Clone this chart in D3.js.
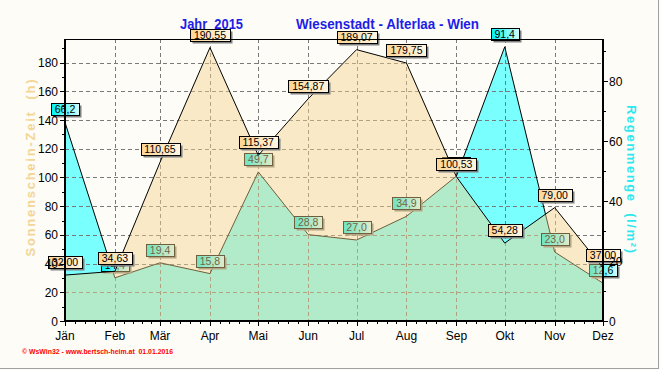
<!DOCTYPE html>
<html><head><meta charset="utf-8">
<script src="https://cdn.jsdelivr.net/npm/d3@7"></script>
<style>html,body{margin:0;padding:0;background:#FDFCF7;}svg{display:block;}</style>
</head><body>
<script>
const months = ["Jän","Feb","Mär","Apr","Mai","Jun","Jul","Aug","Sep","Okt","Nov","Dez"];
const sunshine = [32.00,34.63,110.65,190.55,115.37,154.87,189.07,179.75,100.53,54.28,79.00,37.00];
const rain = [66.2,14.4,19.4,15.8,49.7,28.8,27.0,34.9,48.3,91.4,23.0,12.6];
const leftTicks = [0,20,40,60,80,100,120,140,160,180];
const rightTicks = [0,20,40,60,80];
const titleLeft = "Jahr  2015";
const titleRight = "Wiesenstadt - Alterlaa - Wien";
const leftTitle = "Sonnenschein-Zeit  (h)";
const rightTitle = "Regenmenge  (l/m²)";
const footer = "© WsWin32 - www.bertsch-heim.at  01.01.2016";

const W = 661, H = 370;
const L = 65, R = 603, T = 39, B = 321;
const dates = months.map((m,i)=>new Date(Date.UTC(2015,i,1)));
const x = d3.scaleUtc().domain([dates[0], dates[11]]).range([L,R]);
const yL = d3.scaleLinear().domain([0,196.5]).range([B,T]);
const yR = d3.scaleLinear().domain([0,94]).range([B,T]);

const svg = d3.select("body").append("svg").attr("width",W).attr("height",H)
  .style("font-family","'Liberation Sans', Arial, sans-serif");
svg.append("rect").attr("width",W).attr("height",H).attr("fill","#FDFCF7");

const defs = svg.append("defs");
function grad(id,c1,c2){
  const g = defs.append("linearGradient").attr("id",id).attr("x1",0).attr("x2",1).attr("y1",0).attr("y2",0);
  g.append("stop").attr("offset","0%").attr("stop-color",c1);
  g.append("stop").attr("offset","100%").attr("stop-color",c2);
}
grad("gSun","#FFD595","#FFF6E4");
grad("gRain","#00F2F2","#D4FFFF");

// rain area
const rainArea = d3.area().x((d,i)=>x(dates[i])).y0(B).y1(d=>yR(d));
const rainLine = d3.line().x((d,i)=>x(dates[i])).y(d=>yR(d));
svg.append("path").datum(rain).attr("d",rainArea).attr("fill","#7AFFFF");

// grid
const grid = svg.append("g").attr("stroke","#7a7a7a").attr("stroke-dasharray","4,3").attr("stroke-width",1);
dates.forEach((d,i)=>{ if(i>0 && i<11) grid.append("line").attr("x1",Math.round(x(d))+0.5).attr("x2",Math.round(x(d))+0.5).attr("y1",T).attr("y2",B); });
leftTicks.forEach(v=>{ if(v>0) grid.append("line").attr("x1",L).attr("x2",R).attr("y1",Math.round(yL(v))+0.5).attr("y2",Math.round(yL(v))+0.5); });

svg.append("path").datum(rain).attr("d",rainLine).attr("fill","none").attr("stroke","#000").attr("stroke-width",1);

function labels(vals, fmt, yScale, gradId){
  const g = svg.append("g");
  vals.forEach((v,i)=>{
    const cx = x(dates[i]), cy = yScale(v) - 13;
    const lg = g.append("g");
    const sh = lg.append("rect");
    const bx = lg.append("rect");
    const t = lg.append("text").attr("x",cx).attr("y",cy+4).attr("text-anchor","middle")
      .attr("font-size","10.5px").attr("fill","#000").text(fmt(v));
    const w = Math.round(t.node().getComputedTextLength()) + 8;
    const x0 = Math.round(cx - w/2) + 0.5, y0 = Math.round(cy - 6) + 0.5;
    sh.attr("x",x0+2).attr("y",y0+2).attr("width",w).attr("height",12).attr("fill","#808080");
    bx.attr("x",x0).attr("y",y0).attr("width",w).attr("height",12).attr("fill",`url(#${gradId})`).attr("stroke","#000").attr("stroke-width",1);
  });
}
labels(rain, v=>v.toFixed(1).replace(".",","), yR, "gRain");

// sunshine area (translucent)
const sunArea = d3.area().x((d,i)=>x(dates[i])).y0(B).y1(d=>yL(d));
const sunLine = d3.line().x((d,i)=>x(dates[i])).y(d=>yL(d));
svg.append("path").datum(sunshine).attr("d",sunArea).attr("fill","#F4D38A").attr("fill-opacity",0.45);
svg.append("path").datum(sunshine).attr("d",sunLine).attr("fill","none").attr("stroke","#000").attr("stroke-width",1);
labels(sunshine, v=>v.toFixed(2).replace(".",","), yL, "gSun");

// frame
svg.append("line").attr("x1",L).attr("x2",R).attr("y1",T+0.5).attr("y2",T+0.5).attr("stroke","#000");
svg.append("line").attr("x1",L-1).attr("x2",R+1).attr("y1",B).attr("y2",B).attr("stroke","#000").attr("stroke-width",2);
svg.append("line").attr("x1",L).attr("x2",L).attr("y1",T).attr("y2",B+1).attr("stroke","#000").attr("stroke-width",2);
svg.append("line").attr("x1",R).attr("x2",R).attr("y1",T).attr("y2",B+1).attr("stroke","#000").attr("stroke-width",2);

// left axis ticks
const ax = svg.append("g").attr("stroke","#000").attr("stroke-width",1);
for(let v=0; v<=190; v+=10){
  const yy = Math.round(yL(v))+0.5;
  ax.append("line").attr("x1",L-(v%20===0?5:3)).attr("x2",L).attr("y1",yy).attr("y2",yy);
}
for(let v=0; v<=90; v+=10){
  const yy = Math.round(yR(v))+0.5;
  ax.append("line").attr("x1",R).attr("x2",R+(v%20===0?5:3)).attr("y1",yy).attr("y2",yy);
}
dates.forEach((d,i)=>{
  const xx = Math.round(x(d))+0.5;
  ax.append("line").attr("x1",xx).attr("x2",xx).attr("y1",B).attr("y2",B+5);
  if(i<11){
    const x1 = x(dates[i+1]);
    for(let k=1;k<5;k++){
      const xm = Math.round(x(d)+(x1-x(d))*k/5)+0.5;
      ax.append("line").attr("x1",xm).attr("x2",xm).attr("y1",B).attr("y2",B+3);
    }
  }
});
svg.append("g").selectAll("text").data(leftTicks).join("text")
  .attr("x",L-7).attr("y",d=>yL(d)+4.5).attr("text-anchor","end").attr("font-size","12px").text(d=>d);
svg.append("g").selectAll("text").data(rightTicks).join("text")
  .attr("x",R+6).attr("y",d=>yR(d)+4.5).attr("text-anchor","start").attr("font-size","12px").text(d=>d);
svg.append("g").selectAll("text").data(months).join("text")
  .attr("x",(d,i)=>x(dates[i])).attr("y",340).attr("text-anchor","middle").attr("font-size","12px").text(d=>d);

// titles
svg.append("text").attr("x",180).attr("y",29).attr("font-size","14px").attr("font-weight","bold")
  .attr("fill","#1E1EE6").attr("textLength",63).attr("lengthAdjust","spacingAndGlyphs").attr("xml:space","preserve").style("white-space","pre").text(titleLeft);
svg.append("text").attr("x",296).attr("y",29).attr("font-size","14px").attr("font-weight","bold")
  .attr("fill","#1E1EE6").attr("textLength",183).attr("lengthAdjust","spacingAndGlyphs").text(titleRight);
svg.append("text").attr("transform","translate(35,168) rotate(-90)").attr("text-anchor","middle")
  .attr("font-size","13px").attr("font-weight","bold").attr("fill","#F3D596")
  .attr("textLength",177).attr("lengthAdjust","spacing").style("white-space","pre").text(leftTitle);
svg.append("text").attr("transform","translate(627,179) rotate(90)").attr("text-anchor","middle")
  .attr("font-size","13px").attr("font-weight","bold").attr("fill","#2EE8F0")
  .attr("textLength",148).attr("lengthAdjust","spacing").style("white-space","pre").text(rightTitle);
svg.append("text").attr("x",22).attr("y",354).attr("font-size","8px").attr("font-weight","bold")
  .attr("fill","#FF0000").attr("textLength",151).attr("lengthAdjust","spacingAndGlyphs").style("white-space","pre").text(footer);

// window border
svg.append("line").attr("x1",658.5).attr("x2",658.5).attr("y1",0).attr("y2",369).attr("stroke","#A0A0A0");
svg.append("line").attr("x1",0).attr("x2",659).attr("y1",368.5).attr("y2",368.5).attr("stroke","#A0A0A0");
</script>
</body></html>
